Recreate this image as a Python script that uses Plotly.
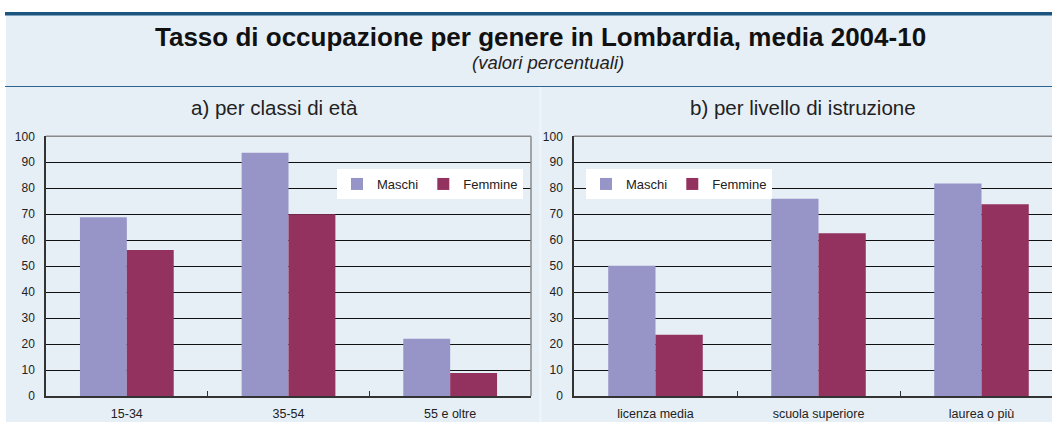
import plotly.graph_objects as go

# ---- data ----
eta_categories = ["15-34", "35-54", "55 e oltre"]
eta_maschi = [68.8, 93.7, 22.0]
eta_femmine = [56.2, 70.0, 8.9]

istr_categories = ["licenza media", "scuola superiore", "laurea o più"]
istr_maschi = [50.2, 76.0, 81.8]
istr_femmine = [23.6, 62.7, 73.8]

y_ticks = list(range(0, 101, 10))

title_text = "Tasso di occupazione per genere in Lombardia, media 2004-10"
subtitle_text = "(valori percentuali)"
panel_a_title = "a) per classi di età"
panel_b_title = "b) per livello di istruzione"

COL_M = "#9794c8"
COL_F = "#93325f"
BG = "#e7eff6"
FONT = "Arial, Liberation Sans, sans-serif"
W, H = 1052, 422

fig = go.Figure()

fig.add_trace(go.Bar(x=eta_categories, y=eta_maschi, name="Maschi", marker_color=COL_M,
                     marker_line_width=0, xaxis="x", yaxis="y", legend="legend"))
fig.add_trace(go.Bar(x=eta_categories, y=eta_femmine, name="Femmine", marker_color=COL_F,
                     marker_line_width=0, xaxis="x", yaxis="y", legend="legend"))
fig.add_trace(go.Bar(x=istr_categories, y=istr_maschi, name="Maschi", marker_color=COL_M,
                     marker_line_width=0, xaxis="x2", yaxis="y2", legend="legend2"))
fig.add_trace(go.Bar(x=istr_categories, y=istr_femmine, name="Femmine", marker_color=COL_F,
                     marker_line_width=0, xaxis="x2", yaxis="y2", legend="legend2"))

def px_x(p):
    return p / W

def px_y(p):
    return 1 - p / H

y_dom = [px_y(396), px_y(136.3)]

xcommon = dict(type="category", showgrid=False, showline=True, linecolor="#333333", linewidth=1.5,
               ticks="inside", ticklen=5, tickcolor="#333333", tickson="boundaries",
               tickfont=dict(family=FONT, size=12.5, color="#222222"), ticklabelstandoff=5,
               fixedrange=True, automargin=False)
ycommon = dict(range=[0, 100], tickvals=y_ticks, showgrid=True, gridcolor="#111111", gridwidth=1.2,
               showline=True, linecolor="#333333", linewidth=1.5, ticks="", zeroline=False,
               tickfont=dict(family=FONT, size=12, color="#222222"), ticklabelstandoff=7,
               domain=y_dom, fixedrange=True, automargin=False)

band = 163.0
right_end = (W - 574) / band - 0.5

legend_common = dict(orientation="h", yanchor="middle", xanchor="center",
                     bgcolor="white", borderwidth=0,
                     font=dict(family=FONT, size=13, color="#222222"),
                     itemwidth=30, tracegroupgap=0, traceorder="normal")

fig.update_layout(
    width=W, height=H, autosize=False,
    margin=dict(l=0, r=0, t=0, b=0, pad=0, autoexpand=False),
    paper_bgcolor="white", plot_bgcolor="white",
    barmode="group", bargap=0.42, bargroupgap=0,
    xaxis=dict(xcommon, domain=[px_x(46), px_x(531)], range=[-0.5, 2.5], anchor="y"),
    yaxis=dict(ycommon, anchor="x"),
    xaxis2=dict(xcommon, domain=[px_x(574), 1.0], range=[-0.5, right_end], anchor="y2"),
    yaxis2=dict(ycommon, anchor="x2"),
    legend=dict(legend_common, x=px_x(430), y=px_y(184)),
    legend2=dict(legend_common, x=px_x(679), y=px_y(184)),
    showlegend=True,
)

shapes = [
    # light blue background
    dict(type="rect", xref="paper", yref="paper", x0=px_x(6), x1=1.0, y0=0, y1=px_y(15),
         fillcolor=BG, line_width=0, layer="below"),
    # top dark blue rule
    dict(type="rect", xref="paper", yref="paper", x0=px_x(5), x1=1.0, y0=px_y(15.5), y1=px_y(12),
         fillcolor="#1b5580", line_width=0, layer="above"),
    # rule under title box
    dict(type="line", xref="paper", yref="paper", x0=px_x(5), x1=1.0, y0=px_y(86.5), y1=px_y(86.5),
         line=dict(color="#2c6690", width=1), layer="above"),
    # panel separator
    dict(type="line", xref="paper", yref="paper", x0=px_x(540.5), x1=px_x(540.5), y0=0, y1=px_y(87),
         line=dict(color="#eef3f8", width=3), layer="below"),
    # gray top/right borders of plot areas
    dict(type="line", xref="x domain", yref="y domain", x0=0, x1=1, y0=1, y1=1,
         line=dict(color="#8a8a8a", width=1.5), layer="above"),
    dict(type="line", xref="x domain", yref="y domain", x0=1, x1=1, y0=0, y1=1,
         line=dict(color="#8a8a8a", width=1.5), layer="above"),
    dict(type="line", xref="x2 domain", yref="y2 domain", x0=0, x1=1, y0=1, y1=1,
         line=dict(color="#8a8a8a", width=1.5), layer="above"),
]
fig.update_layout(shapes=shapes)

annotations = [
    dict(text="<b>" + title_text + "</b>", x=px_x(540), y=px_y(37), xref="paper", yref="paper",
         showarrow=False, xanchor="center", yanchor="middle",
         font=dict(family=FONT, size=26, color="#111111")),
    dict(text="<i>" + subtitle_text + "</i>", x=px_x(548), y=px_y(63), xref="paper", yref="paper",
         showarrow=False, xanchor="center", yanchor="middle",
         font=dict(family=FONT, size=18.5, color="#222222")),
    dict(text=panel_a_title, x=px_x(274), y=px_y(107), xref="paper", yref="paper",
         showarrow=False, xanchor="center", yanchor="middle",
         font=dict(family=FONT, size=20.5, color="#222222")),
    dict(text=panel_b_title, x=px_x(803), y=px_y(107), xref="paper", yref="paper",
         showarrow=False, xanchor="center", yanchor="middle",
         font=dict(family=FONT, size=20.5, color="#222222")),
]
fig.update_layout(annotations=annotations)

fig.write_html("out.html", config={"displayModeBar": False},
               post_script="document.body.style.margin='0';document.body.style.padding='0';")
